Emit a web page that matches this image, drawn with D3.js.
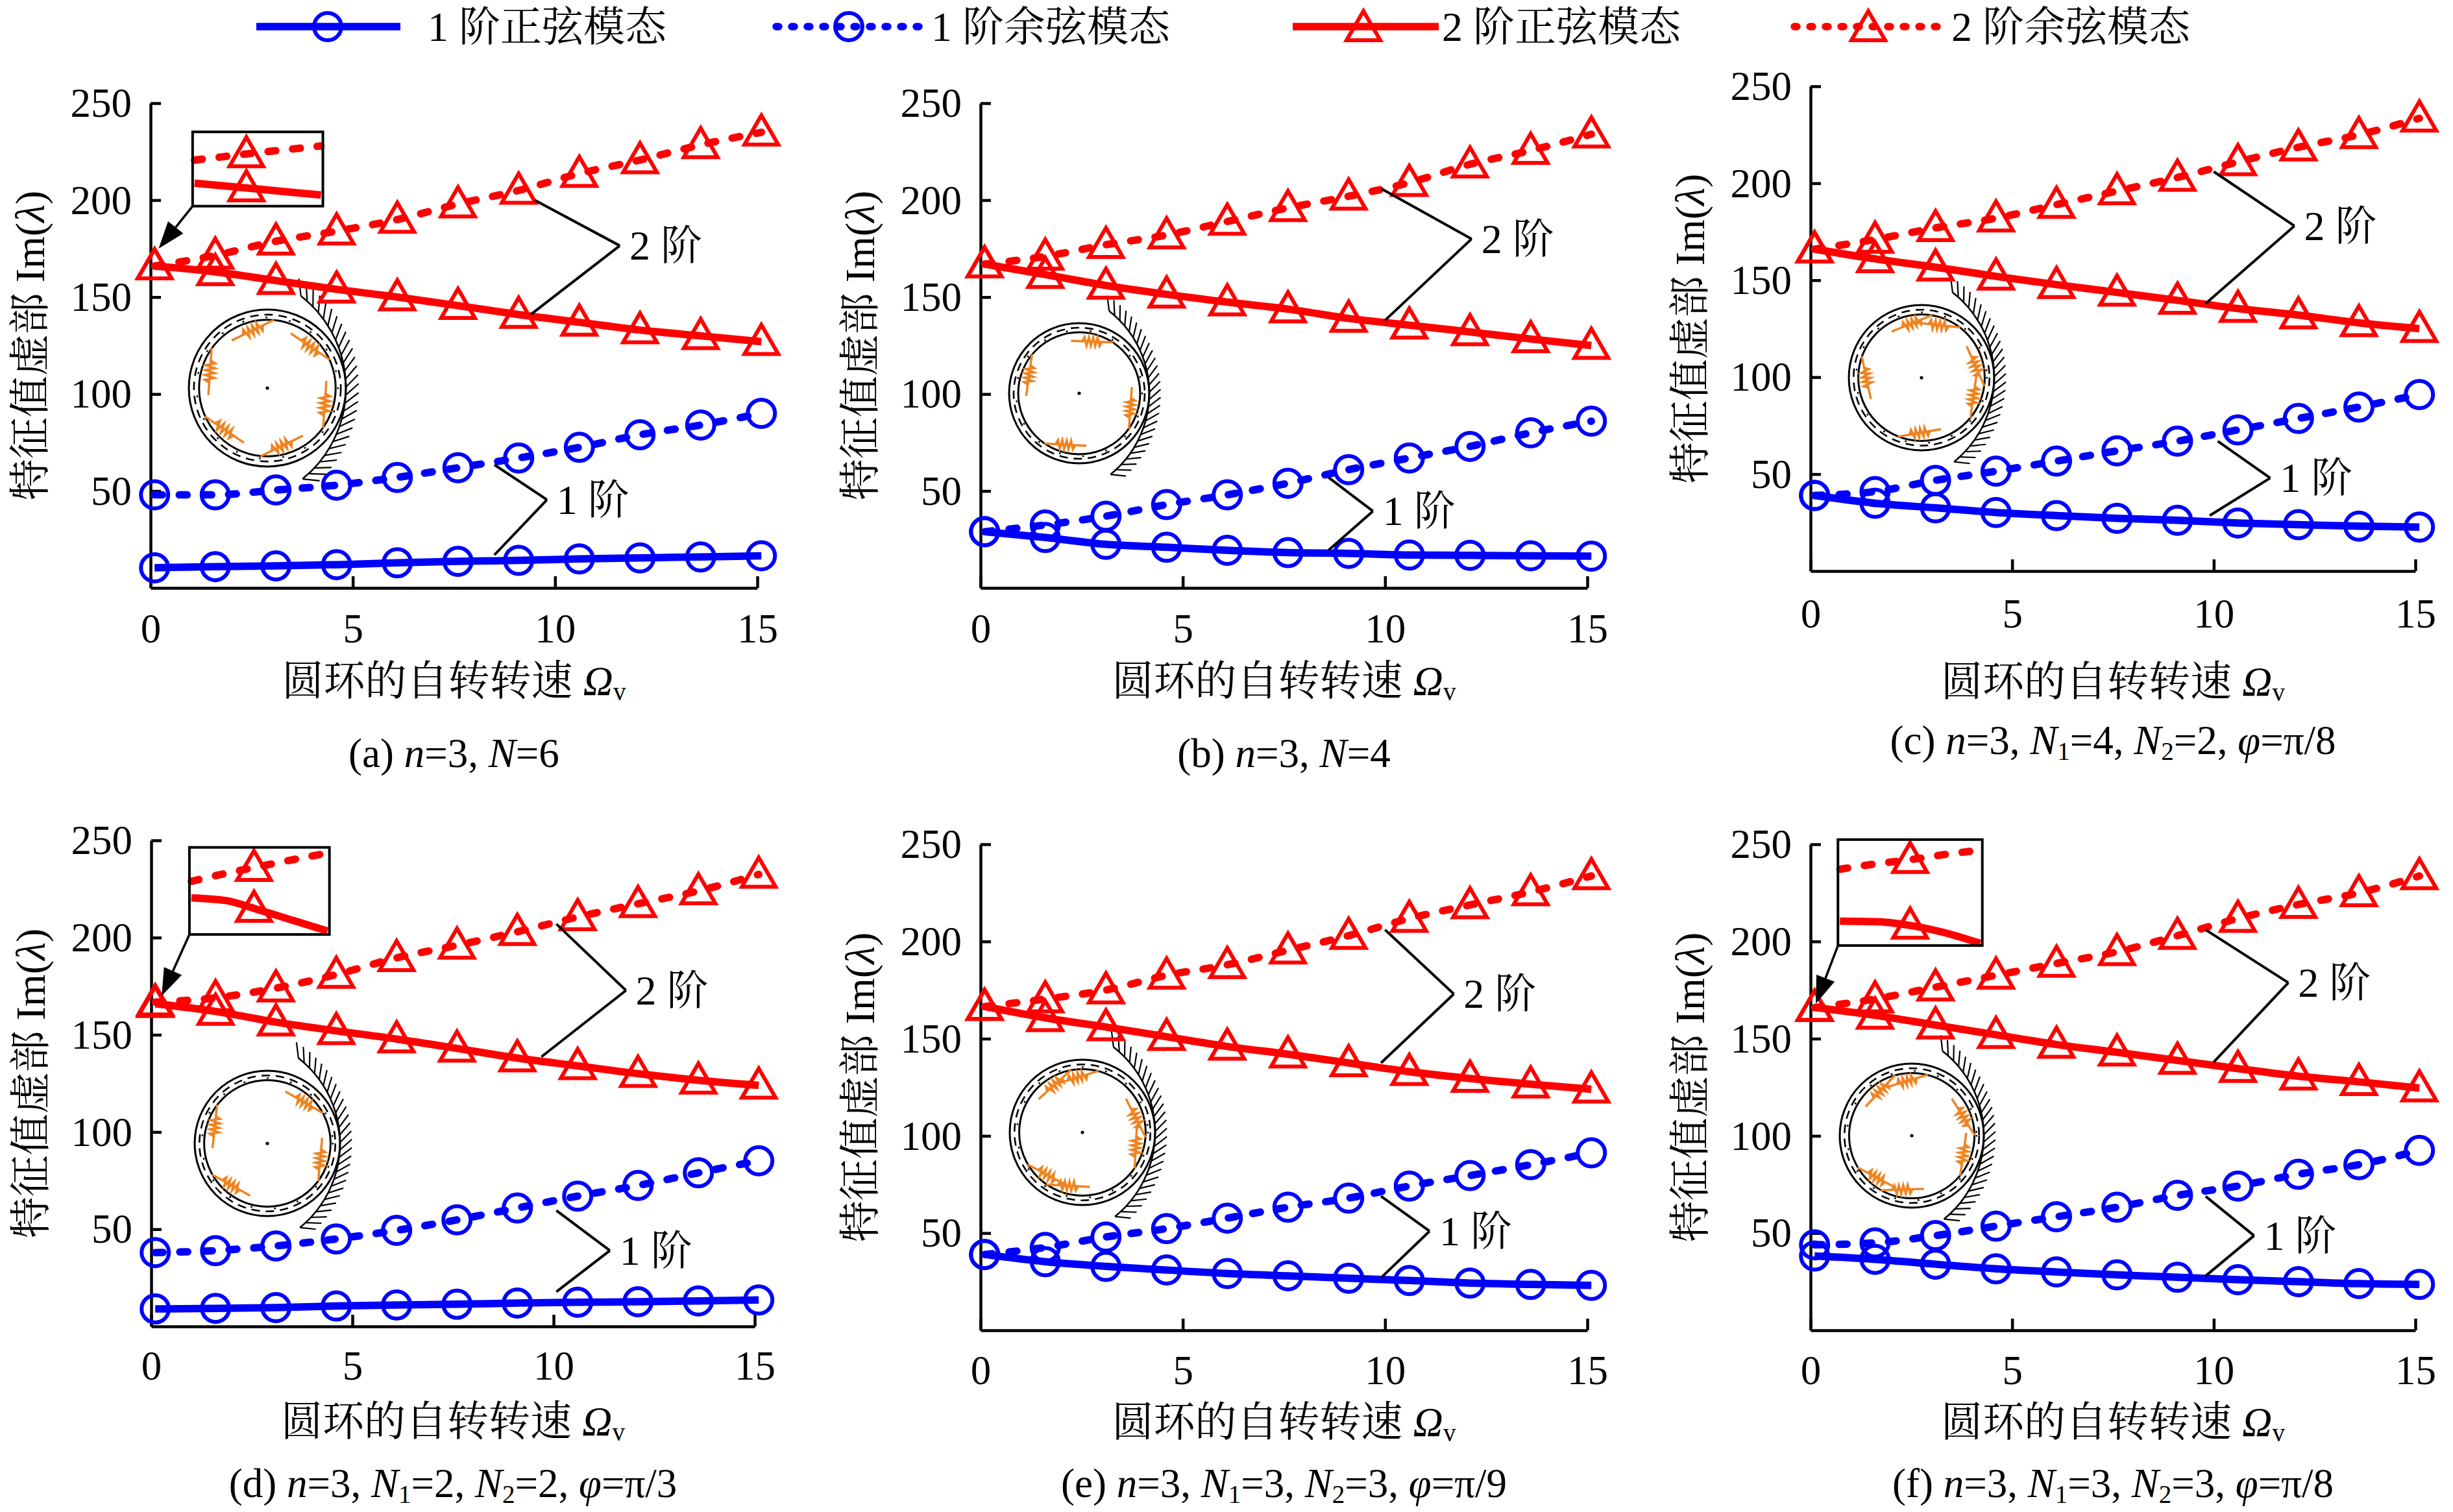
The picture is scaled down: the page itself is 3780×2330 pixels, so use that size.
<!DOCTYPE html>
<html><head><meta charset="utf-8">
<script src="https://cdn.jsdelivr.net/npm/d3@7/dist/d3.min.js"></script>
<style>
body{margin:0;background:#fff}
svg{display:block}
text{font-family:"Liberation Serif","Times New Roman","Noto Serif CJK SC","Noto Sans CJK SC",serif;fill:#000}
</style>
</head><body>
<svg id="chart" width="3780" height="2330"></svg>
<script>
// ---------------- data ----------------
const speeds = [0.1, 1.6, 3.1, 4.6, 6.1, 7.6, 9.1, 10.6, 12.1, 13.6, 15.1];
const xTicks = [0, 5, 10, 15];
const yTicks = [50, 100, 150, 200, 250];
const seriesNames = ["1 阶正弦模态", "1 阶余弦模态", "2 阶正弦模态", "2 阶余弦模态"];

// (a) n=3, N=6
const aSin1 = [10.4, 11, 11.4, 12, 13, 13.7, 14.2, 15, 15.5, 16, 16.6];
const aCos1 = [48, 48, 50.5, 53, 57, 62, 67, 72.5, 79, 84, 90];
const aSin2 = [166, 163, 158.5, 154, 150, 145.6, 141, 137, 133, 130, 127];
const aCos2 = [166, 171.5, 178.8, 184, 190, 198, 205, 213.7, 220.7, 228.5, 235];
// (b) n=3, N=4
const bSin1 = [29, 26, 22.5, 21, 19.4, 18.2, 17.8, 17, 16.8, 16.6, 16.4];
const bCos1 = [29, 32.5, 37, 43, 48, 54, 61, 67, 73, 80, 86];
const bSin2 = [167, 161.6, 156, 151.4, 147.4, 143.8, 139, 135.5, 132, 128.4, 125];
const bCos2 = [167, 171, 177, 182, 189, 196, 202, 209, 218.5, 225.6, 234];
// (c) n=3, N1=4, N2=2, phi=pi/8
const cSin1 = [39, 35, 32.6, 30.2, 28.6, 27.2, 26.2, 24.8, 23.9, 23.2, 22.7];
const cCos1 = [39, 41, 46.8, 51.5, 56.7, 62, 67, 72.8, 78.7, 84.6, 91];
const cSin2 = [166, 161, 156.7, 152, 147.7, 143.7, 139.6, 135.4, 132, 128, 125];
const cCos2 = [166, 171, 177, 182, 189, 196, 203, 211, 218.6, 225, 233.5];
// (d) n=3, N1=2, N2=2, phi=pi/3
const dSin1 = [9, 9.3, 9.7, 10.5, 11, 11.4, 12, 12.4, 12.7, 13.1, 13.6];
const dCos1 = [38, 39, 41.4, 45, 49.4, 54.8, 60.9, 67, 72.5, 79, 85.2];
const dSin2 = [166, 162, 156.5, 152, 147.8, 143, 138, 134, 130, 126.6, 124];
const dCos2 = [166.8, 169, 174, 181, 189.6, 196, 203, 210.6, 217.4, 224, 232.5];
// (e) n=3, N1=3, N2=3, phi=pi/9
const eSin1 = [39, 35.3, 32.9, 31, 29.2, 28, 26.8, 25.6, 24.3, 23.6, 23.1];
const eCos1 = [39, 42.6, 48, 52.3, 57.7, 63.3, 68, 74.2, 79.6, 85.2, 91.3];
const eSin2 = [166.5, 160.7, 156, 151, 146, 142, 137.5, 133, 129.5, 126.6, 124];
const eCos2 = [166.5, 170.4, 175, 182.6, 188, 195.5, 203, 211.8, 218.8, 225.5, 233.7];
// (f) n=3, N1=3, N2=3, phi=pi/8
const fSin1 = [38.2, 36.5, 34, 31.6, 30, 28.5, 27.3, 26, 25, 24, 23.6];
const fCos1 = [44, 45, 48.7, 53.6, 58.4, 63.3, 69.4, 74.2, 80.3, 85.2, 92.5];
const fSin2 = [166, 162, 157, 152, 147, 143, 138.8, 134.6, 130.7, 127.8, 124.6];
const fCos2 = [166, 170.4, 176.5, 182.6, 188.7, 194.7, 203, 211.8, 219, 225, 233.7];

// magnified inset views (fractions of inset box)
const insetXs = [0, 0.25, 0.5, 0.75, 1];
const aInsetCos2 = [0.62, 0.67, 0.72, 0.765, 0.81];
const aInsetSin2 = [0.31, 0.27, 0.23, 0.19, 0.15];
const dInsetCos2 = [0.61, 0.70, 0.78, 0.86, 0.935];
const dInsetSin2 = [0.42, 0.39, 0.28, 0.16, 0.04];
const fInsetCos2 = [0.72, 0.77, 0.81, 0.86, 0.90];
const fInsetSin2 = [0.23, 0.225, 0.19, 0.12, 0.02];

// caption parts
const capA = [{t:"(a) "},{t:"n",i:1},{t:"=3, "},{t:"N",i:1},{t:"=6"}];
const capB = [{t:"(b) "},{t:"n",i:1},{t:"=3, "},{t:"N",i:1},{t:"=4"}];
const capC = [{t:"(c) "},{t:"n",i:1},{t:"=3, "},{t:"N",i:1},{t:"1",s:1},{t:"=4, "},{t:"N",i:1},{t:"2",s:1},{t:"=2, "},{t:"φ",i:1},{t:"=π/8"}];
const capD = [{t:"(d) "},{t:"n",i:1},{t:"=3, "},{t:"N",i:1},{t:"1",s:1},{t:"=2, "},{t:"N",i:1},{t:"2",s:1},{t:"=2, "},{t:"φ",i:1},{t:"=π/3"}];
const capE = [{t:"(e) "},{t:"n",i:1},{t:"=3, "},{t:"N",i:1},{t:"1",s:1},{t:"=3, "},{t:"N",i:1},{t:"2",s:1},{t:"=3, "},{t:"φ",i:1},{t:"=π/9"}];
const capF = [{t:"(f) "},{t:"n",i:1},{t:"=3, "},{t:"N",i:1},{t:"1",s:1},{t:"=3, "},{t:"N",i:1},{t:"2",s:1},{t:"=3, "},{t:"φ",i:1},{t:"=π/8"}];

// ---------------- layout ----------------
const panels = [
  {sin1:aSin1,cos1:aCos1,sin2:aSin2,cos2:aCos2,cap:capA,L:232,R:1167,T:159,B:906,lab:968,tit:1049,capY:1161,
   ring:{cx:412,cy:598,r:121,ang:[-104,-44,16,76,136,196]},
   ann:[{v:[11.6,176.5],e:[[9.5,200],[9.4,141]],t:"2 阶"},{v:[9.8,45.5],e:[[8.5,63.5],[8.5,17]],t:"1 阶"}],
   inset:{x:[1.04,4.26],y:[196.9,235.2],tip:[0.2,175],cos:aInsetCos2,sin:aInsetSin2,m:0.41}},
  {sin1:bSin1,cos1:bCos1,sin2:bSin2,cos2:bCos2,cap:capB,L:1511,R:2446,T:159,B:906,lab:968,tit:1049,capY:1161,
   ring:{cx:1663,cy:606,r:108,ang:[-76,16,105,200]},
   ann:[{v:[12.14,180],e:[[9.9,206],[10.0,138]],t:"2 阶"},{v:[9.7,39.6],e:[[8.6,57],[8.6,19.4]],t:"1 阶"}]},
  {sin1:cSin1,cos1:cCos1,sin2:cSin2,cos2:cCos2,cap:capC,L:2790,R:3722,T:133,B:880,lab:945,tit:1050,capY:1141,
   ring:{cx:2961,cy:582,r:112,ang:[-100,-72,-12,20,92,180]},
   ann:[{v:[12.0,178],e:[[10.0,206],[9.8,138]],t:"2 阶"},{v:[11.4,48],e:[[10.1,67],[9.9,28.6]],t:"1 阶"}]},
  {sin1:dSin1,cos1:dCos1,sin2:dSin2,cos2:dCos2,cap:capD,L:233,R:1163,T:1295,B:2044,lab:2104,tit:2190,capY:2286,
   ring:{cx:412,cy:1762,r:112,ang:[-48,17,131,198]},
   ann:[{v:[11.8,172.8],e:[[10.07,207],[9.7,138.7]],t:"2 阶"},{v:[11.4,39],e:[[10.07,59.6],[10.07,17.8]],t:"1 阶"}],
   inset:{x:[0.95,4.43],y:[201.6,246.4],tip:[0.26,170],cos:dInsetCos2,sin:dInsetSin2,m:0.46}},
  {sin1:eSin1,cos1:eCos1,sin2:eSin2,cos2:eCos2,cap:capE,L:1511,R:2446,T:1301,B:2050,lab:2111,tit:2191,capY:2286,
   ring:{cx:1668,cy:1745,r:112,ang:[-120,-95,-15,15,105,130]},
   ann:[{v:[11.7,173],e:[[10.0,206],[9.9,137.5]],t:"2 阶"},{v:[11.1,51],e:[[9.9,69],[9.9,27]],t:"1 阶"}]},
  {sin1:fSin1,cos1:fCos1,sin2:fSin2,cos2:fCos2,cap:capF,L:2790,R:3722,T:1301,B:2050,lab:2111,tit:2191,capY:2286,
   ring:{cx:2946,cy:1750,r:111,ang:[-125,-95,-20,20,100,130]},
   ann:[{v:[11.85,178.8],e:[[9.8,206],[10.0,138]],t:"2 阶"},{v:[11.0,48.7],e:[[9.8,68.9],[9.8,28]],t:"1 阶"}],
   inset:{x:[0.68,4.26],y:[197.9,252.4],tip:[0.13,168],cos:fInsetCos2,sin:fInsetSin2,m:0.5}}
];

const BLUE = "#0000ff", RED = "#ff0000", ORANGE = "#ee8422";
const FS = 63;
const LW = 11.5, MW = 6;
const DASH = "12,26";

const svg = d3.select("#chart");
svg.append("rect").attr("width",3780).attr("height",2330).attr("fill","#fff");

function rich(sel, parts, size) {
  let down = false;
  parts.forEach(p => {
    const ts = sel.append("tspan").text(p.t);
    if (p.i) ts.attr("font-style","italic");
    if (p.s) { ts.attr("font-size", size*0.62).attr("dy", size*0.25); down = true; }
    else if (down) { ts.attr("dy", -size*0.25); down = false; }
  });
}

function marker(g, type, cx, cy, color) {
  if (type === "c") {
    g.append("circle").attr("cx",cx).attr("cy",cy).attr("r",21)
      .attr("fill","none").attr("stroke",color).attr("stroke-width",MW);
  } else {
    const p = d3.path();
    p.moveTo(cx, cy-26); p.lineTo(cx+26, cy+19); p.lineTo(cx-26, cy+19); p.closePath();
    g.append("path").attr("d", p.toString()).attr("fill","none")
      .attr("stroke",color).attr("stroke-width",MW).attr("stroke-linejoin","miter");
  }
}

function drawRing(g, rc) {
  const R = rc.r;
  const r = g.append("g").attr("transform",`translate(${rc.cx},${rc.cy})`);
  const ring = (rad, w, dash, cap) => {
    const c = r.append("circle").attr("r",rad).attr("fill","none").attr("stroke","#000").attr("stroke-width",w);
    if (dash) c.attr("stroke-dasharray",dash);
    if (cap) c.attr("stroke-linecap",cap);
  };
  ring(R, 3);
  ring(R*0.935, 2.6, "13,9");
  ring(R*0.9, 2.6, "0.5,36", "round");
  ring(R*0.87, 3);
  r.append("circle").attr("r",2.6).attr("fill","#000");
  // hatched support arc
  const ox = -0.49*R, AR = 1.49*R;
  const a0 = -52*Math.PI/180, a1 = 51*Math.PI/180;
  const ap = d3.path(); ap.arc(ox, 0, AR, a0, a1);
  r.append("path").attr("d", ap.toString()).attr("fill","none").attr("stroke","#000").attr("stroke-width",2.6);
  const n = 26, L = 0.22*R;
  for (let i = 0; i <= n; i++) {
    const a = a0 + (a1 - a0)*i/n;
    const px = ox + AR*Math.cos(a), py = AR*Math.sin(a);
    const d = a - 45*Math.PI/180;
    r.append("line").attr("x1",px).attr("y1",py)
      .attr("x2",px + L*Math.cos(d)).attr("y2",py + L*Math.sin(d))
      .attr("stroke","#000").attr("stroke-width",2.2);
  }
  // springs
  rc.ang.forEach(deg => {
    const sg = r.append("g").attr("transform",`rotate(${deg}) translate(${R*0.76},0) rotate(${90-12})`);
    const hl = R*0.3, cl = R*0.14, amp = R*0.06;
    sg.append("line").attr("x1",-hl).attr("y1",0).attr("x2",hl).attr("y2",0)
      .attr("stroke",ORANGE).attr("stroke-width",3.5);
    const zz = d3.path(); zz.moveTo(-cl,0);
    const k = 9;
    for (let j = 1; j <= k; j++) zz.lineTo(-cl + 2*cl*j/k, (j%2 ? -amp : amp) * (j===k?0:1));
    sg.append("path").attr("d",zz.toString()).attr("fill","none").attr("stroke",ORANGE).attr("stroke-width",3.5);
  });
}

panels.forEach(p => {
  const g = svg.append("g");
  const x = d3.scaleLinear().domain([0,15]).range([p.L,p.R]);
  const y = d3.scaleLinear().domain([0,250]).range([p.B,p.T]);

  drawRing(g, p.ring);

  // axes
  const gx = g.append("g").attr("transform",`translate(0,${p.B})`)
    .call(d3.axisBottom(x).tickValues(xTicks).tickSizeInner(-18).tickSizeOuter(0).tickPadding(0).tickFormat(d3.format("d")));
  gx.selectAll("text").attr("y", p.lab - p.B).attr("dy","0.35em").attr("font-size",FS)
    .style("font-family",'"Liberation Serif",serif');
  const gy = g.append("g").attr("transform",`translate(${p.L},0)`)
    .call(d3.axisLeft(y).tickValues(yTicks).tickSizeInner(-16).tickSizeOuter(0).tickPadding(29).tickFormat(d3.format("d")));
  gy.selectAll("text").attr("dy","0.33em").attr("font-size",FS)
    .style("font-family",'"Liberation Serif",serif');
  [gx, gy].forEach(a => {
    a.select(".domain").attr("stroke","#000").attr("stroke-width",4.5);
    a.selectAll(".tick line").attr("stroke","#000").attr("stroke-width",4.5);
  });

  // y label
  const yl = g.append("text").attr("transform",`translate(${p.L-186},${(p.T+p.B)/2}) rotate(-90)`)
    .attr("text-anchor","middle").attr("dominant-baseline","central").attr("font-size",FS+1);
  rich(yl, [{t:"特征值虚部 Im("},{t:"λ",i:1},{t:")"}], FS);
  // x title
  const xt = g.append("text").attr("x",(p.L+p.R)/2).attr("y",p.tit).attr("text-anchor","middle")
    .attr("dominant-baseline","central").attr("font-size",FS+1);
  rich(xt, [{t:"圆环的自转转速 "},{t:"Ω",i:1},{t:"v",s:1}], FS);
  // caption
  const cp = g.append("text").attr("x",(p.L+p.R)/2).attr("y",p.capY).attr("text-anchor","middle")
    .attr("dominant-baseline","central").attr("font-size",FS);
  rich(cp, p.cap, FS);

  // series
  const series = [
    {v:p.cos2, c:RED, m:"t", dash:true},
    {v:p.sin2, c:RED, m:"t", dash:false},
    {v:p.cos1, c:BLUE, m:"c", dash:true},
    {v:p.sin1, c:BLUE, m:"c", dash:false}
  ];
  const line = d3.line().x(d => x(d[0])).y(d => y(d[1])).curve(d3.curveMonotoneX);
  series.forEach(s => {
    const pts = speeds.map((sp,i) => [sp, s.v[i]]);
    const ln = g.append("path").attr("d", line(pts)).attr("fill","none").attr("stroke",s.c)
      .attr("stroke-width",LW);
    if (s.dash) ln.attr("stroke-dasharray",DASH).attr("stroke-linecap","round");
    pts.forEach(d => marker(g, s.m, x(d[0]), y(d[1]), s.c));
  });

  // annotations
  p.ann.forEach(a => {
    const vx = x(a.v[0]), vy = y(a.v[1]);
    a.e.forEach(e => g.append("line").attr("x1",vx).attr("y1",vy).attr("x2",x(e[0])).attr("y2",y(e[1]))
      .attr("stroke","#000").attr("stroke-width",4));
    g.append("text").attr("x",vx+15).attr("y",vy).attr("dominant-baseline","central")
      .attr("font-size",FS+1).text(a.t);
  });

  // inset
  if (p.inset) {
    const ins = p.inset;
    const bx0 = x(ins.x[0]), bx1 = x(ins.x[1]), by0 = y(ins.y[1]), by1 = y(ins.y[0]);
    const ix = d3.scaleLinear().domain([0,1]).range([bx0+3, bx1-3]);
    const iy = d3.scaleLinear().domain([0,1]).range([by1, by0]);
    g.append("rect").attr("x",bx0).attr("y",by0).attr("width",bx1-bx0).attr("height",by1-by0)
      .attr("fill","#fff").attr("stroke","none");
    const il = d3.line().x(d => ix(d[0])).y(d => iy(d[1])).curve(d3.curveMonotoneX);
    [{v:ins.cos, dash:true},{v:ins.sin, dash:false}].forEach(s => {
      const pts = insetXs.map((xx,i) => [xx, s.v[i]]);
      const ln = g.append("path").attr("d", il(pts)).attr("fill","none").attr("stroke",RED).attr("stroke-width",LW);
      if (s.dash) ln.attr("stroke-dasharray",DASH).attr("stroke-linecap","round");
      const mv = d3.scaleLinear().domain(insetXs).range(s.v)(ins.m);
      marker(g, "t", ix(ins.m), iy(mv), RED);
    });
    g.append("rect").attr("x",bx0).attr("y",by0).attr("width",bx1-bx0).attr("height",by1-by0)
      .attr("fill","none").attr("stroke","#000").attr("stroke-width",4);
    // arrow
    const tx = x(ins.tip[0]), ty = y(ins.tip[1]);
    const ang = Math.atan2(ty - by1, tx - bx0);
    const hl = 42, hw = 15;
    const bxh = tx - hl*Math.cos(ang), byh = ty - hl*Math.sin(ang);
    g.append("line").attr("x1",bx0).attr("y1",by1).attr("x2",bxh).attr("y2",byh)
      .attr("stroke","#000").attr("stroke-width",3.5);
    const ah = d3.path();
    ah.moveTo(tx,ty);
    ah.lineTo(bxh + hw*Math.sin(ang), byh - hw*Math.cos(ang));
    ah.lineTo(bxh - hw*Math.sin(ang), byh + hw*Math.cos(ang));
    ah.closePath();
    g.append("path").attr("d",ah.toString()).attr("fill","#000");
  }
});

// legend
const legendItems = [
  {name:seriesNames[0], c:BLUE, m:"c", dash:false, x0:395, x1:617, mx:505, tx:659},
  {name:seriesNames[1], c:BLUE, m:"c", dash:true,  x0:1196, x1:1420, mx:1308, tx:1435},
  {name:seriesNames[2], c:RED,  m:"t", dash:false, x0:1992, x1:2217, mx:2101, tx:2222},
  {name:seriesNames[3], c:RED,  m:"t", dash:true,  x0:2765, x1:2995, mx:2879, tx:3007}
];
const LY = 41;
const lg = svg.append("g");
legendItems.forEach(it => {
  const ln = lg.append("line").attr("x1",it.x0).attr("y1",LY).attr("x2",it.x1).attr("y2",LY)
    .attr("stroke",it.c).attr("stroke-width",LW);
  if (it.dash) ln.attr("stroke-dasharray","4,20").attr("stroke-linecap","round");
  marker(lg, it.m, it.mx, it.m === "t" ? LY+2 : LY, it.c);
  lg.append("text").attr("x",it.tx).attr("y",LY).attr("dominant-baseline","central")
    .attr("font-size",FS+1).text(it.name);
});
</script>
</body></html>
